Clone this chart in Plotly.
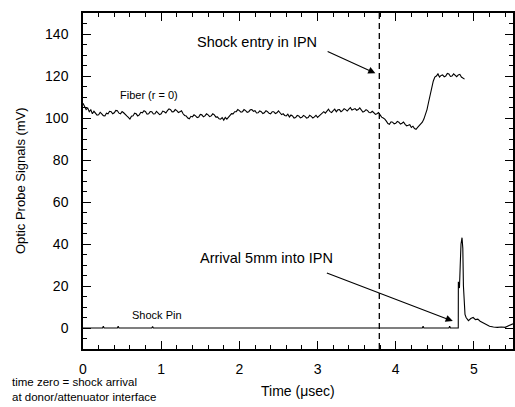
import plotly.graph_objects as go

# ---------------- data ----------------
FIBER_DT = 0.02  # sampling interval of the fiber record (usec), starts at t = 0
fiber_v = [
    107.0, 105.2, 104.0, 104.8, 103.0, 103.9, 102.0, 103.2, 102.5, 101.4,
    101.5, 102.7, 102.0, 101.1, 101.0, 102.3, 102.0, 103.2, 103.0, 102.0,
    102.5, 103.6, 103.5, 102.3, 102.0, 103.1, 102.5, 101.5, 101.0, 100.3,
    99.5, 100.8, 101.0, 102.3, 102.0, 101.0, 101.5, 102.7, 102.5, 103.5,
    103.0, 101.8, 102.0, 103.1, 103.0, 101.9, 102.0, 103.2, 102.5, 101.6,
    102.0, 103.3, 103.0, 102.4, 103.5, 104.3, 104.0, 102.9, 103.0, 104.0,
    103.5, 102.6, 103.0, 103.4, 102.0, 101.2, 101.0, 100.0, 99.6, 100.8,
    100.5, 101.5, 101.0, 100.2, 100.5, 101.7, 101.5, 100.6, 101.0, 102.0,
    101.5, 100.7, 101.0, 102.0, 101.5, 100.4, 100.5, 99.6, 99.5, 100.2,
    99.0, 100.3, 99.5, 100.4, 101.0, 102.1, 102.0, 103.0, 103.0, 104.0,
    103.5, 102.8, 103.0, 104.0, 103.5, 102.7, 103.0, 103.9, 104.0, 103.2,
    103.5, 102.4, 102.5, 103.4, 103.0, 102.1, 102.5, 103.5, 103.0, 102.2,
    102.0, 103.0, 103.0, 102.1, 102.5, 103.4, 102.5, 101.6, 102.0, 101.2,
    101.0, 101.8, 100.5, 101.4, 101.0, 100.0, 100.2, 101.2, 101.0, 100.1,
    100.3, 101.2, 100.8, 99.9, 100.2, 101.3, 100.8, 100.0, 100.5, 101.3,
    100.3, 101.0, 101.5, 102.6, 103.0, 102.3, 103.5, 104.2, 103.0, 102.6,
    103.5, 104.2, 103.0, 103.9, 104.0, 103.0, 103.5, 104.4, 104.0, 103.3,
    104.2, 104.9, 103.8, 104.2, 104.5, 103.7, 104.0, 104.8, 103.5, 102.8,
    103.2, 104.0, 103.5, 102.6, 102.5, 103.2, 102.5, 101.7, 102.0, 102.6,
    101.5, 100.4, 100.0, 99.5, 98.5, 97.4, 97.0, 98.2, 98.0, 97.2,
    97.5, 98.4, 98.0, 97.1, 97.5, 98.1, 97.0, 96.3, 96.5, 96.8,
    95.5, 96.1, 95.0, 94.6, 95.5, 96.2, 97.0, 98.0, 99.5, 101.5,
    104.0, 107.5, 111.0, 114.5, 117.5, 119.5, 120.0, 121.0, 119.5, 120.3,
    120.5, 119.6, 120.0, 121.2, 121.0, 119.8, 120.0, 121.0, 120.5, 119.7,
    120.5, 120.8, 119.5, 119.0, 118.5]
fiber_t = [round(i * FIBER_DT, 2) for i in range(len(fiber_v))]

pin_t = [0.00, 0.25, 0.26, 0.27, 0.44, 0.45, 0.46, 0.88, 0.89, 0.90,
         0.92, 1.50, 2.20, 2.90, 3.40, 4.34, 4.35, 4.36, 4.68, 4.69,
         4.70, 4.800, 4.801, 4.815, 4.825, 4.835, 4.848, 4.858, 4.866, 4.876,
         4.886, 4.90, 4.93, 4.96, 4.99, 5.02, 5.05, 5.08, 5.12, 5.16,
         5.20, 5.25, 5.30, 5.35, 5.40, 5.45, 5.50]
pin_v = [0.0, 0.0, 0.8, 0.0, 0.0, 0.8, 0.0, 0.0, 0.7, 0.0,
         0.0, 0.0, 0.0, 0.0, 0.0, 0.0, 0.8, 0.0, 0.0, 0.8,
         0.0, 0.0, 22.0, 19.0, 30.0, 40.0, 43.0, 38.0, 20.0, 8.0,
         6.5, 5.0, 3.5, 4.5, 5.0, 4.0, 4.2, 3.2, 2.5, 1.5,
         0.8, 0.5, 0.3, 0.5, 0.3, 1.2, 2.0]

x_ticks = [0, 1, 2, 3, 4, 5]
y_ticks = [0, 20, 40, 60, 80, 100, 120, 140]
shock_entry_t = 3.79

FONT = "Liberation Sans, Arial, Helvetica, sans-serif"

fig = go.Figure()
fig.add_trace(go.Scatter(x=fiber_t, y=fiber_v, mode="lines",
                         line=dict(color="black", width=1.1), showlegend=False))
fig.add_trace(go.Scatter(x=pin_t, y=pin_v, mode="lines",
                         line=dict(color="black", width=1.1), showlegend=False))

fig.add_shape(type="line", xref="x", yref="paper", x0=shock_entry_t, x1=shock_entry_t,
              y0=0, y1=1, line=dict(color="black", width=1.3, dash="6px,4px"))

axis_common = dict(showline=True, linecolor="black", linewidth=1.5, mirror="allticks",
                   ticks="inside", tickcolor="black", tickwidth=1.2, ticklen=8,
                   showgrid=False, zeroline=False, automargin=False,
                   tickfont=dict(family=FONT, size=14, color="black"))

fig.update_xaxes(range=[0, 5.5], tickvals=x_ticks, ticktext=[str(v) for v in x_ticks],
                 minor=dict(dtick=0.2, tick0=0, ticks="inside", ticklen=4,
                            tickcolor="black", tickwidth=1.2, showgrid=False),
                 ticklabelstandoff=6, **axis_common)
fig.update_yaxes(range=[-10, 150], tickvals=y_ticks, ticktext=[str(v) for v in y_ticks],
                 minor=dict(dtick=5, tick0=0, ticks="inside", ticklen=4,
                            tickcolor="black", tickwidth=1.2, showgrid=False),
                 ticklabelstandoff=10, **axis_common)

ann = []
# text labels
ann.append(dict(x=2.22, y=136.0, xref="x", yref="y", text="Shock entry in IPN",
                showarrow=False, font=dict(family=FONT, size=14.5, color="black")))
ann.append(dict(x=2.35, y=33.5, xref="x", yref="y", text="Arrival 5mm into IPN",
                showarrow=False, font=dict(family=FONT, size=14.5, color="black")))
ann.append(dict(x=0.84, y=111.0, xref="x", yref="y", text="Fiber (r = 0)",
                showarrow=False, font=dict(family=FONT, size=11, color="black")))
ann.append(dict(x=0.95, y=6.0, xref="x", yref="y", text="Shock Pin",
                showarrow=False, font=dict(family=FONT, size=11, color="black")))
# arrows
ann.append(dict(x=3.74, y=121.3, ax=3.11, ay=132.0, xref="x", yref="y",
                axref="x", ayref="y", text="", showarrow=True, arrowhead=2,
                arrowsize=1.3, arrowwidth=1.1, arrowcolor="black", standoff=0, startstandoff=0))
ann.append(dict(x=4.73, y=3.3, ax=3.10, ay=26.5, xref="x", yref="y",
                axref="x", ayref="y", text="", showarrow=True, arrowhead=2,
                arrowsize=1.3, arrowwidth=1.1, arrowcolor="black", standoff=0, startstandoff=0))
# axis titles and note
ann.append(dict(x=0.5, y=-0.125, xref="paper", yref="paper", text="Time (\u03bcsec)",
                showarrow=False, xanchor="center", yanchor="middle",
                font=dict(family=FONT, size=14, color="black")))
ann.append(dict(x=-0.1465, y=0.5, xref="paper", yref="paper",
                text="Optic Probe Signals (mV)", textangle=-90, showarrow=False,
                xanchor="center", yanchor="middle",
                font=dict(family=FONT, size=13, color="black")))
ann.append(dict(x=-0.1698, y=-0.1680, xref="paper", yref="paper",
                text="time zero = shock arrival<br>at donor/attenuator interface",
                showarrow=False, xanchor="left", yanchor="bottom", align="left",
                font=dict(family=FONT, size=11.5, color="black")))

fig.update_layout(width=515, height=407, margin=dict(l=83, r=2, t=13, b=58, autoexpand=False),
                  paper_bgcolor="white", plot_bgcolor="white",
                  annotations=ann, showlegend=False)

fig.write_html("out.html", config={"displayModeBar": False},
               post_script="document.body.style.margin='0';document.body.style.padding='0';"
                           "document.body.style.overflow='hidden';")
